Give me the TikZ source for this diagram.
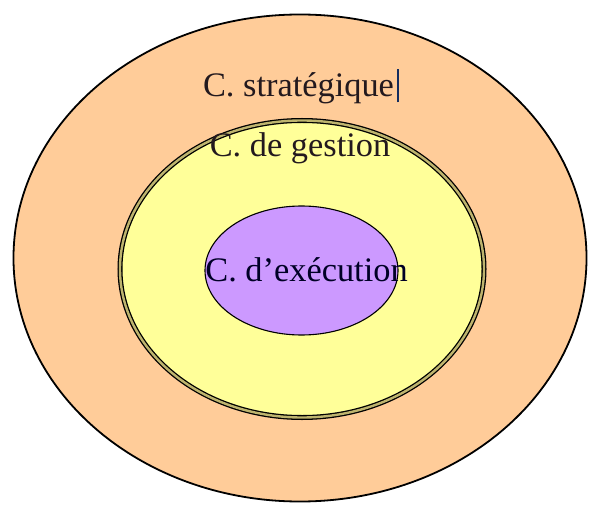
\documentclass[tikz,border=0pt]{standalone}
\usepackage{fontspec}
\setmainfont{Liberation Serif}
\definecolor{outerorange}{RGB}{255,204,153}
\definecolor{midyellow}{RGB}{255,255,153}
\definecolor{innerpurple}{RGB}{204,153,255}
\definecolor{gapolive}{RGB}{190,180,110}
\definecolor{caretblue}{RGB}{20,45,95}
\definecolor{labeldark}{RGB}{35,25,30}
\usetikzlibrary{shapes.geometric}

\begin{document}
\begin{tikzpicture}[
    x=1bp, y=-1bp,
    ring/.style={ellipse, draw=black, inner sep=0pt},
    label/.style={anchor=base, text=labeldark, inner sep=0pt, font=\fontsize{34.5}{40}\selectfont}
]
    \useasboundingbox[fill=white] (0,0) rectangle (589,505);

    \node[ring, fill=outerorange, line width=1.8bp, minimum width=573bp, minimum height=487bp] (strat) at (300,258) {};
    \node[ring, fill=midyellow, line width=1.3bp, double=gapolive, double distance=2.4bp, minimum width=364bp, minimum height=297bp] (gest) at (302,269) {};
    \node[ring, fill=innerpurple, line width=1.1bp, minimum width=193bp, minimum height=129bp] (exec) at (301.5,270.5) {};

    \node[label] (tstrat) at (298.5,96.5) {C. stratégique};
    \node[label] (tgest) at (300,156.5) {C. de gestion};
    \node[label, text=black!85!blue] (texec) at (306.5,281.5) {C. d’exécution};

    % caret after the top label
    \draw[caretblue, line width=2bp] ([xshift=4bp,yshift=-6bp]tstrat.base east) -- ([xshift=4bp,yshift=27bp]tstrat.base east);
\end{tikzpicture}
\end{document}
